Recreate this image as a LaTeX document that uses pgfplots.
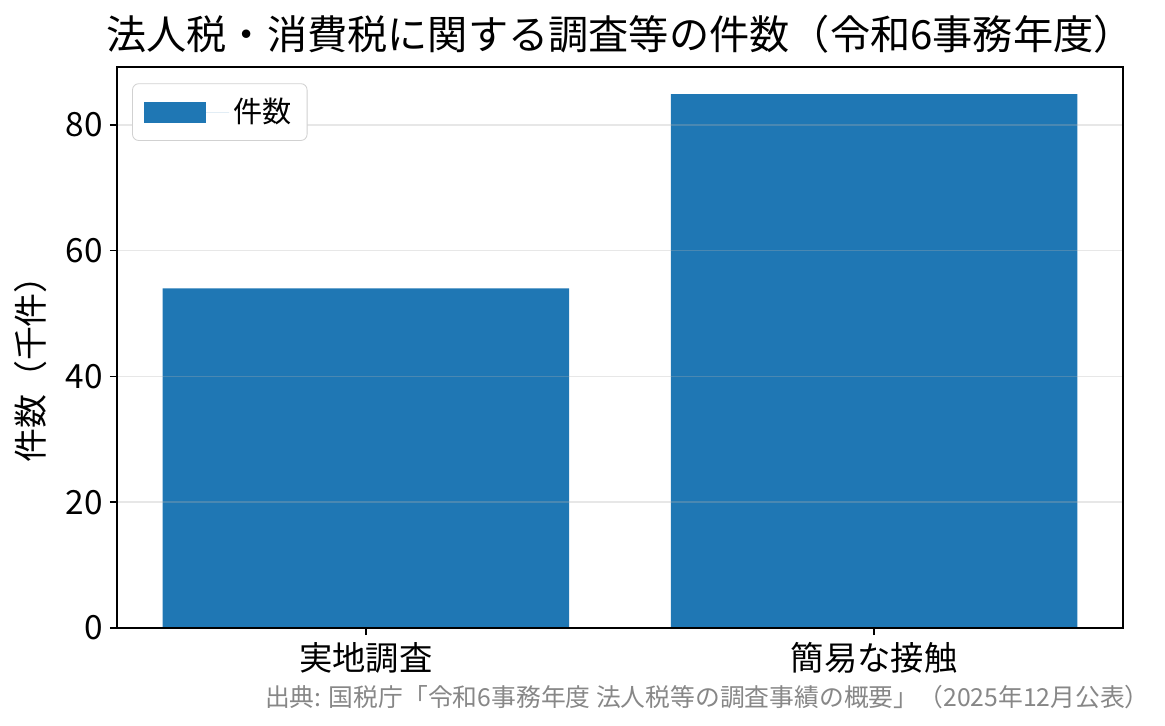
\documentclass[border=0pt]{standalone}
\usepackage{pgfplots}
\pgfplotsset{compat=1.18}
\usepackage{fontspec}
\setmainfont{Noto Sans CJK JP}
\definecolor{mplblue}{HTML}{1F77B4}
\definecolor{gridgray}{HTML}{B0B0B0}
\begin{document}
\begin{tikzpicture}
\begin{axis}[
    width=482.9pt, height=269.3pt, scale only axis,
    xmin=-0.49, xmax=1.49, ymin=0, ymax=89.2,
    ybar, bar width=0.8,
    xtick={0,1}, xticklabels={実地調査,簡易な接触},
    ytick={0,20,40,60,80},
    xtick pos=lower, ytick pos=left,
    tick align=outside, major tick length=3.4pt,
    every tick/.style={black, line width=0.8pt},
    axis line style={line width=0.8pt},
    ymajorgrids=true,
    major grid style={gridgray, opacity=0.3, line width=0.8pt},
    axis on top,
    clip=false,
    /pgf/number format/assume math mode=true,
    tick label style={font=\fontsize{16}{19}\selectfont},
    ylabel={件数（千件）},
    every axis y label/.style={at={(rel axis cs:-0.0855,0.476)}, rotate=90,
        anchor=center, font=\fontsize{16.3}{19}\selectfont},
    title={法人税・消費税に関する調査等の件数（令和6事務年度）},
    every axis title/.style={at={(rel axis cs:0.5,1)}, anchor=center,
        yshift=15.8pt, font=\fontsize{19.3}{23}\selectfont},
    legend style={at={(rel axis cs:0.015,0.971)}, anchor=north west,
        draw=black!18, rounded corners=3pt, fill=white,
        font=\fontsize{14}{16}\selectfont,
        inner xsep=5.4pt, inner ysep=5pt},
    legend image code/.code={\fill[#1, sharp corners] (0pt,-5pt) rectangle (30pt,5pt);
        \path (0pt,0pt) -- (41pt,0pt);},
]
\addplot[fill=mplblue, draw=none] coordinates {(0,54.0) (1,84.9)};
\legend{件数}
\node[anchor=east, inner sep=0pt, text=black!47, font=\fontsize{11.9}{14}\selectfont]
    at (rel axis cs:1.027,-0.123) {出典: 国税庁「令和6事務年度 法人税等の調査事績の概要」（2025年12月公表）};
\path (rel axis cs:-0.1163,-0.1729) rectangle (rel axis cs:1.0417,1.1194);
\end{axis}
\end{tikzpicture}
\end{document}
